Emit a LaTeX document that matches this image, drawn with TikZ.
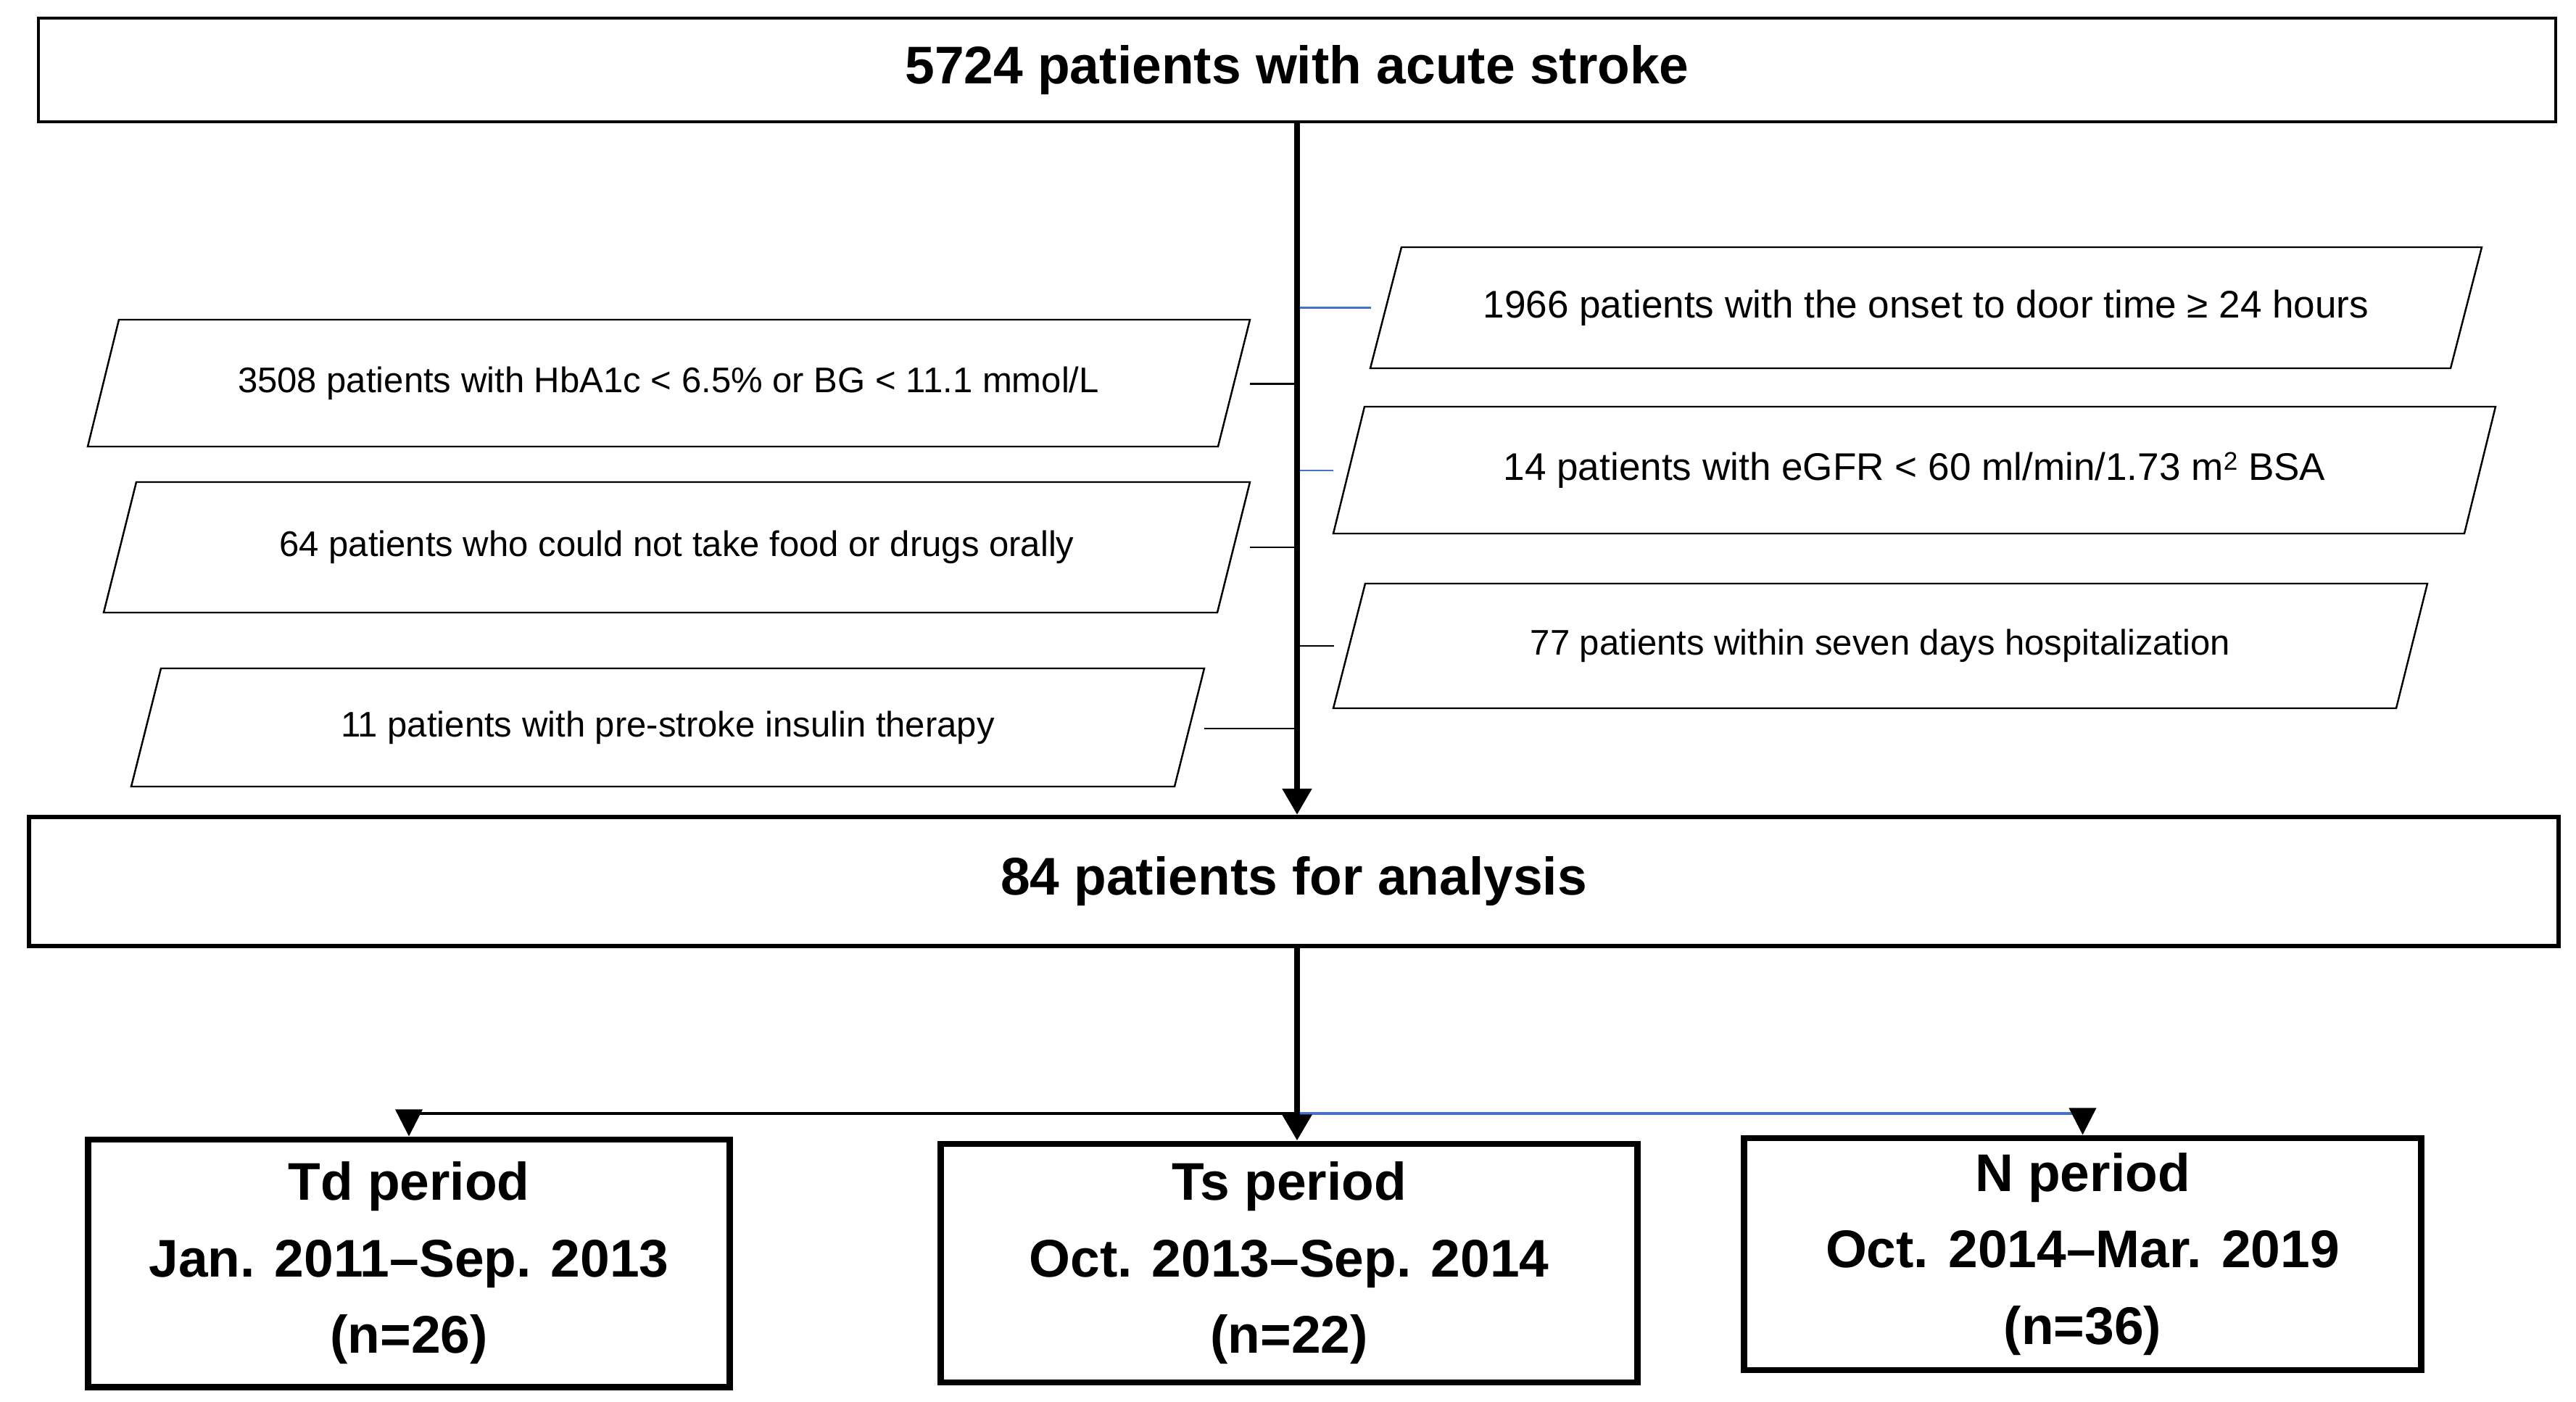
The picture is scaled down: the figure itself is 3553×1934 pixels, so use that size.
\documentclass[tikz,border=0pt]{standalone}
\usepackage{fontspec}
\setmainfont{Liberation Sans}
\usetikzlibrary{arrows.meta}
\definecolor{lineblue}{HTML}{4472C4}
\begin{document}
\begin{tikzpicture}[x=0.01cm,y=-0.01cm,
  big/.style={font=\fontsize{20.8pt}{30pt}\selectfont\bfseries},
  small/.style={font=\fontsize{13.95pt}{17pt}\selectfont},
  smallb/.style={font=\fontsize{15.1pt}{18pt}\selectfont},
  para/.style={draw=black,line width=0.7pt,line join=miter},
  conn/.style={line width=0.85pt,draw=black},
  bconn/.style={line width=0.85pt,draw=lineblue},
  tip/.style={-{Triangle[width=0.37cm,length=0.37cm]}},
  bigtip/.style={-{Triangle[width=0.39cm,length=0.36cm]}},
  period/.style={draw,line width=2.5pt,big,align=center,inner sep=0pt},
]
\useasboundingbox (0,0) rectangle (3553,1934);
\fill[white] (0,0) rectangle (3553,1934);

% main boxes
\node[draw,line width=1.1pt,minimum width=34.7cm,minimum height=1.43cm,inner sep=0pt,big] (top) at (1789,96.5) {5724 patients with acute stroke};
\node[draw,line width=1.7pt,minimum width=34.87cm,minimum height=1.78cm,inner sep=0pt,big] (mid) at (1784.5,1216) {84 patients for analysis};

% period boxes
\node[period,minimum width=8.84cm,minimum height=3.41cm] (td) at (564,1742.5) {Td period\\Jan. 2011–Sep. 2013\\(n=26)};
\node[period,minimum width=9.6cm,minimum height=3.29cm] (ts) at (1778,1742.5) {Ts period\\Oct. 2013–Sep. 2014\\(n=22)};
\node[period,minimum width=9.33cm,minimum height=3.2cm] (np) at (2872.5,1730) {N period\\Oct. 2014–Mar. 2019\\(n=36)};

% left exclusion boxes
\draw[para] (164,441) -- (1724,441) -- (1680,616) -- (121,616) -- cycle;
\node[small] (l1) at (922,528.5) {3508 patients with HbA1c < 6.5\% or BG < 11.1 mmol/L};
\draw[para] (188,665) -- (1724,665) -- (1679,845) -- (143,845) -- cycle;
\node[small] (l2) at (933.5,755) {64 patients who could not take food or drugs orally};
\draw[para] (222,922) -- (1661,922) -- (1620,1085) -- (181,1085) -- cycle;
\node[small] (l3) at (921,1003.5) {11 patients with pre-stroke insulin therapy};

% right exclusion boxes
\draw[para] (1933,341) -- (3423,341) -- (3380,508) -- (1890,508) -- cycle;
\node[smallb] (r1) at (2656.5,424.5) {1966 patients with the onset to door time ≥ 24 hours};
\draw[para] (1882,561) -- (3442,561) -- (3399,736) -- (1839,736) -- cycle;
\node[smallb] (r2) at (2640.5,648.5) {14 patients with eGFR < 60 ml/min/1.73 m\raisebox{0.25em}{\fontsize{10pt}{10pt}\selectfont 2} BSA};
\draw[para] (1883,805) -- (3348,805) -- (3305,977) -- (1839,977) -- cycle;
\node[small] (r3) at (2593.5,891) {77 patients within seven days hospitalization};

% connector end points
\coordinate (l1e) at (1724,530);
\coordinate (l2e) at (1724,755);
\coordinate (l3e) at (1661,1005);
\coordinate (r1e) at (1891,425);
\coordinate (r2e) at (1839,649);
\coordinate (r3e) at (1840,891);
\coordinate (brl) at (0,1536);
\coordinate (br) at (top.south |- brl);

% side connectors
\draw[conn] (l1e) -- (l1e -| top.south);
\draw[conn] (l2e) -- (l2e -| top.south);
\draw[conn] (l3e) -- (l3e -| top.south);
\draw[bconn] (r1e -| top.south) -- (r1e);
\draw[bconn] (r2e -| top.south) -- (r2e);
\draw[conn] (r3e -| top.south) -- (r3e);

% branches to periods
\draw[conn,line width=1pt,tip] (br) -| (td.north);
\draw[bconn,line width=1pt] (br) -- (br -| np.north);
\draw[conn,line width=1pt,tip] (br -| np.north) -- (np.north);

% spines
\draw[line width=2.3pt,bigtip] (top.south) -- (top.south |- mid.north);
\draw[line width=2.5pt,bigtip] (top.south |- mid.south) -- (top.south |- ts.north);
\end{tikzpicture}
\end{document}
